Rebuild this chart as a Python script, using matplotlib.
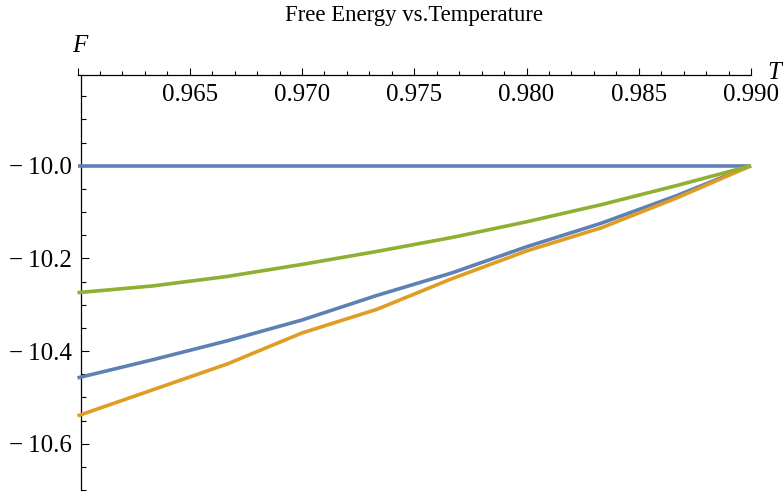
import matplotlib
matplotlib.use("Agg")
import matplotlib.pyplot as plt
from matplotlib.ticker import FixedLocator, MultipleLocator
import numpy as np

# ---- data ----
T = [0.96, 0.963333, 0.966667, 0.97, 0.973333, 0.976667, 0.98, 0.983333, 0.986667, 0.99]
F_flat = [-10.0, -10.0, -10.0, -10.0, -10.0, -10.0, -10.0, -10.0, -10.0, -10.0]
F_blue = [-10.458, -10.419, -10.378, -10.333, -10.280, -10.2315, -10.175, -10.124, -10.065, -10.0]
F_orange = [-10.540, -10.484, -10.428, -10.361, -10.310, -10.244, -10.184, -10.134, -10.070, -10.0]
F_green = [-10.274, -10.2595, -10.239, -10.213, -10.185, -10.155, -10.121, -10.084, -10.043, -10.0]

x_major = [0.960, 0.965, 0.970, 0.975, 0.980, 0.985, 0.990]
x_labels = ["", "0.965", "0.970", "0.975", "0.980", "0.985", "0.990"]
y_major = [-10.6, -10.4, -10.2, -10.0]
y_labels = ["\u2212\u200910.6", "\u2212\u200910.4", "\u2212\u200910.2", "\u2212\u200910.0"]

title = "Free Energy vs.Temperature"

plt.rcParams['font.family'] = ['Liberation Serif', 'DejaVu Serif']

W, H = 783, 495
fig = plt.figure(figsize=(W / 100, H / 100), dpi=100)
left_px, right_px, top_px, bot_px = 77.5, 751, 74.5, 490
ax = fig.add_axes([left_px / W, 1 - bot_px / H, (right_px - left_px) / W, (bot_px - top_px) / H])

blue = "#5E81B5"
orange = "#E19C24"
green = "#8FB032"
lw = 2.6
ax.plot(T, F_flat, color=blue, lw=lw, clip_on=False, solid_capstyle='butt', zorder=3)
ax.plot(T, F_blue, color=blue, lw=lw, clip_on=False, solid_capstyle='butt', zorder=3)
ax.plot(T, F_orange, color=orange, lw=lw, clip_on=False, solid_capstyle='butt', zorder=3)
ax.plot(T, F_green, color=green, lw=lw, clip_on=False, solid_capstyle='butt', zorder=3)

ax.set_xlim(0.96, 0.99)
ax.set_ylim(-10.7, -9.803)

for s in ['right', 'top']:
    ax.spines[s].set_visible(False)
ax.spines['bottom'].set_position(('axes', 1.0))
ax.spines['left'].set_position(('data', 0.96014))
for s in ['left', 'bottom']:
    ax.spines[s].set_linewidth(0.9)

ax.xaxis.set_major_locator(FixedLocator(x_major))
ax.xaxis.set_ticklabels(x_labels)
ax.xaxis.set_minor_locator(MultipleLocator(0.001))
ax.yaxis.set_major_locator(FixedLocator(y_major))
ax.yaxis.set_ticklabels(y_labels)
ax.yaxis.set_minor_locator(FixedLocator(np.arange(-10.7, -9.84, 0.05)))

ax.tick_params(axis='x', which='major', direction='in', length=5.0, width=0.8, pad=7, labelsize=18)
ax.tick_params(axis='x', which='minor', direction='in', length=2.9, width=0.8)
ax.tick_params(axis='y', which='major', direction='in', length=5.8, width=0.8, pad=6, labelsize=18)
ax.tick_params(axis='y', which='minor', direction='in', length=3.6, width=0.8)

fig.text(414 / W, 1 - 16 / H, title, ha='center', va='center', fontsize=16.4)
fig.text(79.5 / W, 1 - 46 / H, "F", ha='center', va='center', fontsize=18, style='italic')
fig.text(774 / W, 1 - 73 / H, "T", ha='center', va='center', fontsize=18, style='italic')

fig.savefig("out.png", dpi=100)
